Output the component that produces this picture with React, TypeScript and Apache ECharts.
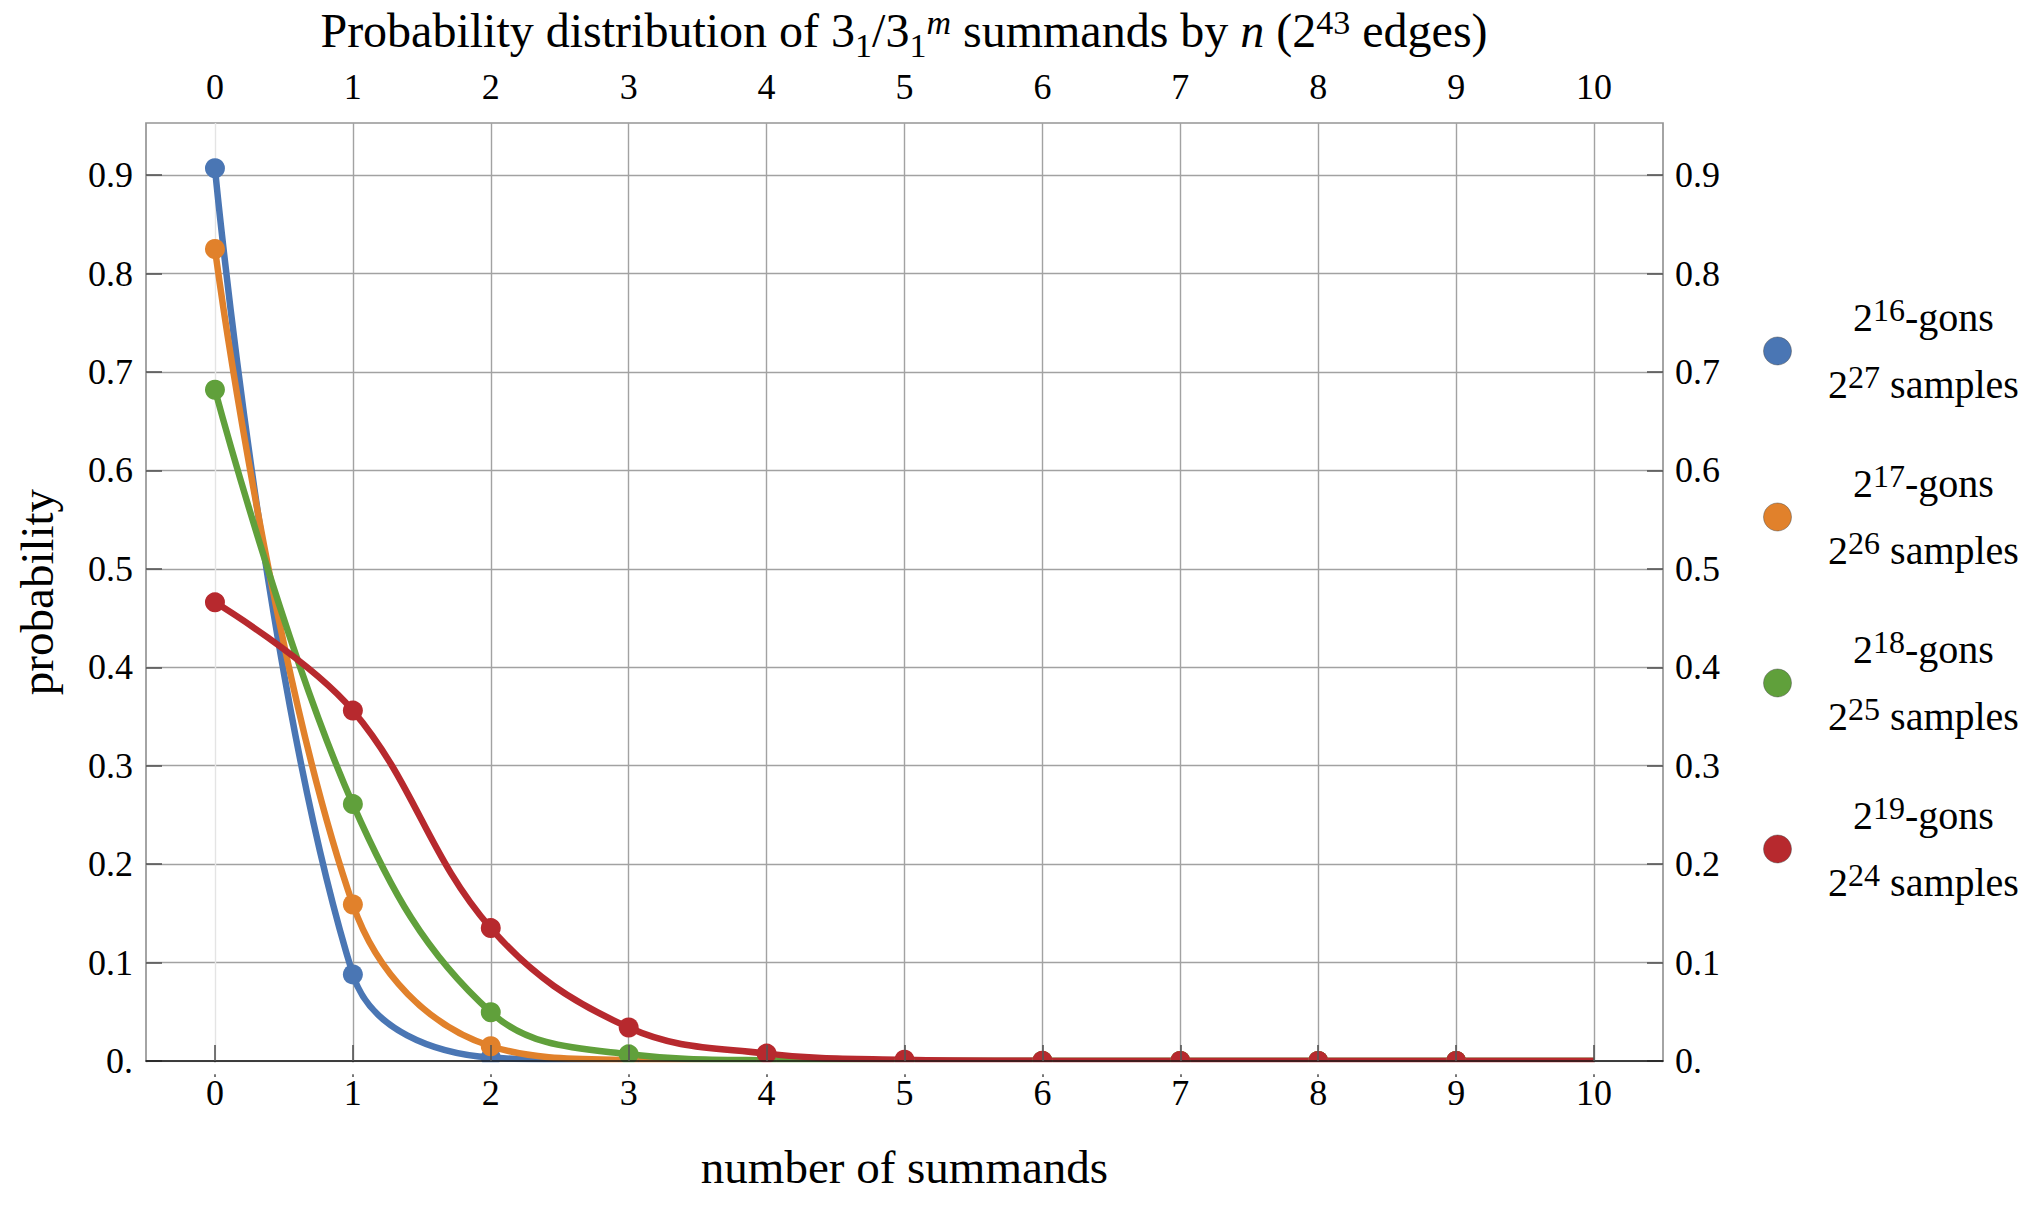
import React, { useEffect, useRef } from "react";
import * as echarts from "echarts";

// ---------- data ----------
const xs = [0, 1, 2, 3, 4, 5, 6, 7, 8, 9, 10];
const blueVals = [0.907, 0.088, 0.0035, 0.0001, 0, 0, 0, 0, 0, 0, 0];
const orangeVals = [0.825, 0.159, 0.015, 0.0011, 0.0001, 0, 0, 0, 0, 0, 0];
const greenVals = [0.682, 0.261, 0.0495, 0.0068, 0.0007, 0.0001, 0, 0, 0, 0, 0];
const redVals = [0.466, 0.356, 0.135, 0.034, 0.0075, 0.0013, 0.0002, 0, 0, 0, 0];

const gonsExp = ["16", "17", "18", "19"];
const samplesExp = ["27", "26", "25", "24"];
const seriesColors = ["#4a76b4", "#e1812b", "#60a03b", "#b7292e"];

const xTicks = [0, 1, 2, 3, 4, 5, 6, 7, 8, 9, 10];
const yTicks = [0, 0.1, 0.2, 0.3, 0.4, 0.5, 0.6, 0.7, 0.8, 0.9];
const yTickLabels = ["0.", "0.1", "0.2", "0.3", "0.4", "0.5", "0.6", "0.7", "0.8", "0.9"];

const titleText =
  "{a|Probability distribution of 3}{sb|1}{a|/3}{sb|1}{spi|m}{a|\u00a0summands by\u00a0}{i|n}{a|\u00a0(2}{sp|43}{a|\u00a0edges)}";
const xName = "number of summands";
const yName = "probability";

// ---------- style ----------
const FONT = '"Liberation Serif", "Times New Roman", Times, serif';
const GRID_LEFT = 146;
const GRID_TOP = 123;
const GRID_W = 1517;
const GRID_H = 938;
const TICK_COLOR = "#555555";
const GRID_COLOR = "#a2a2a2";
const FRAME_COLOR = "#959595";

const allVals = [blueVals, orangeVals, greenVals, redVals];
const seriesNames = gonsExp.map((g, i) => `2^${g}-gons, 2^${samplesExp[i]} samples`);

function yLabel(v: number) {
  const i = yTicks.findIndex((t) => Math.abs(t - v) < 1e-9);
  return i >= 0 ? yTickLabels[i] : "";
}

function buildOption(): any {
  const tickLabel = { fontFamily: FONT, fontSize: 36, color: "#000" };
  return {
    animation: false,
    backgroundColor: "#ffffff",
    title: {
      text: titleText,
      left: 904,
      top: 0,
      padding: 0,
      textAlign: "center",
      textVerticalAlign: "top",
      textStyle: {
        fontFamily: FONT,
        fontSize: 48,
        fontWeight: "normal",
        color: "#000",
        lineHeight: 60,
        rich: {
          a: { fontFamily: FONT, fontSize: 48, color: "#000" },
          i: { fontFamily: FONT, fontSize: 48, fontStyle: "italic", color: "#000" },
          sb: { fontFamily: FONT, fontSize: 34, color: "#000", padding: [30, 0, 0, 0] },
          sp: { fontFamily: FONT, fontSize: 34, color: "#000", padding: [0, 0, 15, 0] },
          spi: { fontFamily: FONT, fontSize: 34, fontStyle: "italic", color: "#000", padding: [0, 0, 15, 0] },
        },
      },
    },
    legend: {
      orient: "vertical",
      left: 1763,
      top: 284,
      padding: 0,
      itemWidth: 28,
      itemHeight: 28,
      itemGap: 32,
      icon: "circle",
      selectedMode: false,
      data: seriesNames,
      itemStyle: { borderColor: "rgba(70,70,70,0.45)", borderWidth: 1 },
      formatter: (name: string) => {
        const i = seriesNames.indexOf(name);
        return `{m|2}{s|${gonsExp[i]}}{m|-gons}\n{m|2}{s|${samplesExp[i]}}{m|\u00a0samples}`;
      },
      textStyle: {
        fontFamily: FONT,
        fontSize: 40,
        color: "#000",
        lineHeight: 67,
        width: 254,
        rich: {
          m: { fontFamily: FONT, fontSize: 40, color: "#000", align: "center" },
          s: { fontFamily: FONT, fontSize: 32, color: "#000", align: "center", padding: [0, 0, 15, 0] },
        },
      },
    },
    grid: {
      left: GRID_LEFT,
      top: GRID_TOP,
      width: GRID_W,
      height: GRID_H,
      show: true,
      borderColor: FRAME_COLOR,
      borderWidth: 1.7,
      backgroundColor: "transparent",
      containLabel: false,
      outerBoundsMode: "none",
    },
    xAxis: [
      {
        type: "value",
        position: "bottom",
        min: -0.5,
        max: 10.5,
        z: 12,
        axisLine: { show: true, onZero: false, lineStyle: { color: "#1a1a1a", width: 1.5 } },
        axisTick: { show: true, inside: true, length: 16, customValues: xTicks, lineStyle: { color: TICK_COLOR, width: 1.6 } },
        axisLabel: { ...tickLabel, margin: 14, customValues: xTicks, formatter: (v: number) => String(v) },
        splitLine: { show: false },
        name: xName,
        nameLocation: "middle",
        nameGap: 82,
        nameMoveOverlap: false,
        nameTextStyle: { fontFamily: FONT, fontSize: 47, color: "#000" },
      },
      {
        type: "value",
        position: "top",
        min: -0.5,
        max: 10.5,
        axisLine: { show: false },
        axisTick: { show: true, inside: true, length: 16, customValues: xTicks, lineStyle: { color: TICK_COLOR, width: 1.6 } },
        axisLabel: { ...tickLabel, margin: 18, customValues: xTicks, formatter: (v: number) => String(v) },
        splitLine: {
          show: true,
          lineStyle: { color: xTicks.map((t) => (t === 0 ? "#e4e4e4" : GRID_COLOR)), width: 1.4 },
        },
      },
    ],
    yAxis: [
      {
        type: "value",
        position: "left",
        min: 0,
        max: 0.953,
        axisLine: { show: false, onZero: false },
        axisTick: { show: true, inside: true, length: 16, customValues: yTicks, lineStyle: { color: TICK_COLOR, width: 1.6 } },
        axisLabel: { ...tickLabel, margin: 13, customValues: yTicks, formatter: yLabel },
        splitLine: { show: true, lineStyle: { color: GRID_COLOR, width: 1.4 } },
        name: yName,
        nameLocation: "middle",
        nameRotate: 90,
        nameGap: 86,
        nameMoveOverlap: false,
        nameTextStyle: { fontFamily: FONT, fontSize: 47, color: "#000" },
      },
      {
        type: "value",
        position: "right",
        min: 0,
        max: 0.953,
        axisLine: { show: false, onZero: false },
        axisTick: { show: true, inside: true, length: 16, customValues: yTicks, lineStyle: { color: TICK_COLOR, width: 1.6 } },
        axisLabel: { ...tickLabel, margin: 12, customValues: yTicks, formatter: yLabel },
        splitLine: { show: false },
      },
    ],
    graphic: [
      {
        type: "rect",
        z: 10,
        silent: true,
        shape: { x: GRID_LEFT + 1.5, y: GRID_TOP + GRID_H + 1.3, width: GRID_W - 3, height: 12 },
        style: { fill: "#ffffff" },
      },
    ],
    series: allVals.map((vals, si) => ({
      type: "line",
      name: seriesNames[si],
      xAxisIndex: 0,
      yAxisIndex: 0,
      smooth: 0.38,
      symbol: "circle",
      symbolSize: 20,
      showSymbol: true,
      z: 2,
      silent: true,
      emphasis: { disabled: true },
      lineStyle: { color: seriesColors[si], width: 6.5 },
      itemStyle: { color: seriesColors[si] },
      data: xs.map((x, i) =>
        i === xs.length - 1 ? { value: [x, vals[i]], symbol: "none" } : [x, vals[i]]
      ),
    })),
  };
}

export default function App() {
  const ref = useRef<HTMLDivElement>(null);
  useEffect(() => {
    document.body.style.margin = "0";
    document.body.style.overflow = "hidden";
    const chart = echarts.init(ref.current!, null, { renderer: "svg" });
    chart.setOption(buildOption());
    return () => {
      chart.dispose();
    };
  }, []);
  return <div ref={ref} style={{ width: 2041, height: 1212 }} />;
}
